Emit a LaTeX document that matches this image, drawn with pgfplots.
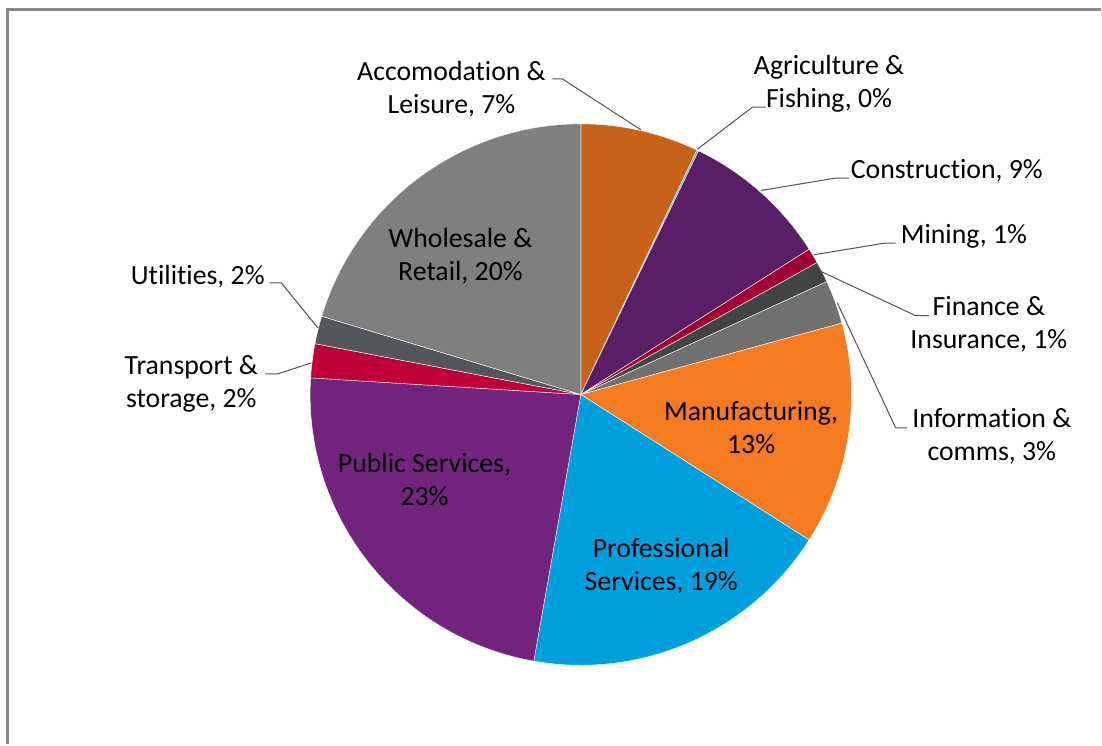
\documentclass[border=0pt]{standalone}
\usepackage{pgfplots}
\pgfplotsset{compat=1.18}
\usepackage{pgfplotstable}
\usepackage{fontspec}
\setmainfont{Carlito}[Ligatures=NoCommon]

\definecolor{cAcc}{RGB}{200,98,26}
\definecolor{cAgr}{RGB}{75,172,198}
\definecolor{cCon}{RGB}{90,30,102}
\definecolor{cMin}{RGB}{160,0,50}
\definecolor{cFin}{RGB}{64,68,68}
\definecolor{cInf}{RGB}{112,112,112}
\definecolor{cMan}{RGB}{244,123,32}
\definecolor{cPro}{RGB}{0,160,223}
\definecolor{cPub}{RGB}{113,35,125}
\definecolor{cTra}{RGB}{192,0,57}
\definecolor{cUti}{RGB}{83,86,90}
\definecolor{cWho}{RGB}{127,127,127}
\definecolor{frame}{RGB}{137,137,137}

\tikzset{
  leader/.style={draw=black!68, line width=0.5pt},
  lbl/.style={font=\fontsize{13.9}{16.5}\selectfont, align=center, inner sep=0pt, text=black},
}

% share of each sector, clockwise from 12 o'clock
\pgfplotstableread{
sector pct col
Accomodation 7.06 cAcc
Agriculture 0.10 cAgr
Construction 8.82 cCon
Mining 0.91 cMin
Finance 1.26 cFin
Information 2.60 cInf
Manufacturing 13.28 cMan
Professional 18.75 cPro
Public 23.20 cPub
Transport 2.03 cTra
Utilities 1.66 cUti
Wholesale 20.33 cWho
}\piedata

\begin{document}
\begin{tikzpicture}
\gdef\cum{0}
\begin{axis}[
  hide axis,
  x=0.5pt, y=0.5pt,
  xmin=-581.5, xmax=520.5,
  ymin=-350, ymax=395,
  clip=false,
]
\path (axis cs:-581.5,-350) rectangle (axis cs:520.5,395);

\pgfplotsinvokeforeach{0,...,11}{
  \pgfplotstablegetelem{#1}{pct}\of\piedata \let\sliceval\pgfplotsretval
  \pgfplotstablegetelem{#1}{col}\of\piedata \let\slicecol\pgfplotsretval
  \pgfmathsetmacro\angA{90-3.6*\cum}
  \pgfmathsetmacro\angB{90-3.6*(\cum+\sliceval)}
  \pgfmathsetmacro\cumnew{\cum+\sliceval}
  \xdef\cum{\cumnew}
  \edef\tmp{\noexpand\fill[\slicecol, draw=white, line width=0.2pt]
    (axis cs:0,0) -- (axis cs:{271*cos(\angA)},{271*sin(\angA)})
    arc[start angle=\angA, end angle=\angB, radius=135.5pt] -- cycle;}
  \tmp
}

% outer frame of the chart area
\draw[frame, line width=1.3pt] (axis cs:-574.2,-350) -- (axis cs:-574.2,385.5) -- (axis cs:520.5,385.5);

% leader lines
\draw[leader] (axis cs:-28.5,316) -- (axis cs:-18.5,316) -- (axis cs:60.2,265);
\draw[leader] (axis cs:185.2,287.7) -- (axis cs:171.8,287.7) -- (axis cs:116.8,245.7);
\draw[leader] (axis cs:268.5,216.7) -- (axis cs:255.2,216.7) -- (axis cs:180.2,204.3);
\draw[leader] (axis cs:315.2,151.7) -- (axis cs:305.2,151.7) -- (axis cs:233.5,140);
\draw[leader] (axis cs:348.5,79) -- (axis cs:335.2,79) -- (axis cs:240.2,123.3);
\draw[leader] (axis cs:326.8,-33.3) -- (axis cs:315.2,-33.3) -- (axis cs:256.8,91.7);
\draw[leader] (axis cs:-311.5,111.7) -- (axis cs:-299.8,111.7) -- (axis cs:-263.2,66.7);
\draw[leader] (axis cs:-315.8,20.7) -- (axis cs:-303.2,20.7) -- (axis cs:-269.8,31.7);

% labels
\node[lbl] at (axis cs:-129.5,306) {Accomodation \&\\Leisure, 7\%};
\node[lbl] at (axis cs:248.5,311) {Agriculture \&\\Fishing, 0\%};
\node[lbl] at (axis cs:366.5,224) {Construction, 9\%};
\node[lbl] at (axis cs:383.5,158) {Mining, 1\%};
\node[lbl] at (axis cs:408.5,70) {Finance \&\\Insurance, 1\%};
\node[lbl] at (axis cs:411.5,-42) {Information \&\\comms, 3\%};
\node[lbl] at (axis cs:-383.5,118) {Utilities, 2\%};
\node[lbl] at (axis cs:-390,11) {Transport \&\\storage, 2\%};
\node[lbl] at (axis cs:-120.5,139) {Wholesale \&\\Retail, 20\%};
\node[lbl] at (axis cs:170.5,-33) {Manufacturing,\\13\%};
\node[lbl] at (axis cs:80.5,-172) {Professional\\Services, 19\%};
\node[lbl] at (axis cs:-156.5,-85) {Public Services,\\23\%};
\end{axis}
\end{tikzpicture}
\end{document}
